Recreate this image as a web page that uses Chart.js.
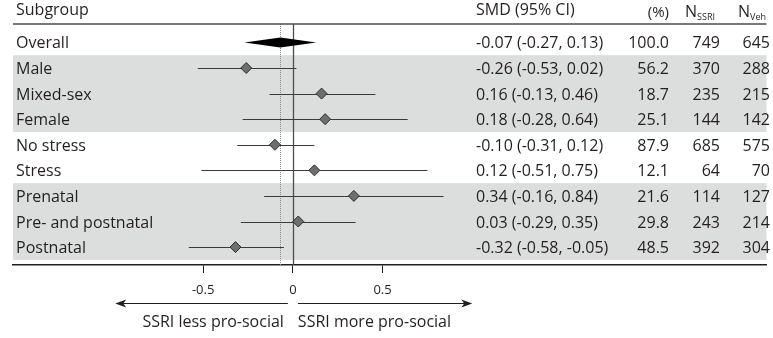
<!DOCTYPE html>
<html>
<head>
<meta charset="utf-8">
<title>SSRI subgroup forest plot</title>
<script src="https://cdn.jsdelivr.net/npm/chart.js@4.4.1/dist/chart.umd.min.js"></script>
<style>
  html, body { margin: 0; padding: 0; background: #fff; }
  canvas { display: block; }
</style>
</head>
<body>
<canvas id="forestChart" width="773" height="338"></canvas>
<script>
// Subgroup estimates (standardised mean difference with 95% CI)
const subgroups = ['Overall', 'Male', 'Mixed-sex', 'Female', 'No stress', 'Stress', 'Prenatal', 'Pre- and postnatal', 'Postnatal'];
const smd = [-0.07, -0.26, 0.16, 0.18, -0.10, 0.12, 0.34, 0.03, -0.32];
const ciLow = [-0.27, -0.53, -0.13, -0.28, -0.31, -0.51, -0.16, -0.29, -0.58];
const ciHigh = [0.13, 0.02, 0.46, 0.64, 0.12, 0.75, 0.84, 0.35, -0.05];
const weight = [100.0, 56.2, 18.7, 25.1, 87.9, 12.1, 21.6, 29.8, 48.5];
const nSSRI = [749, 370, 235, 144, 685, 64, 114, 243, 392];
const nVeh = [645, 288, 215, 142, 575, 70, 127, 214, 304];

// grey bands behind grouped rows (first row, last row)
const bands = [[1, 3], [6, 8]];
const xTicks = [-0.5, 0, 0.5];

const FONT = "'Open Sans', 'Noto Sans', sans-serif";
const TEXT = '#231f20';

function fmt(v) {
    return v.toFixed(2);
}

const forestPlugin = {
    id: 'forest',
    beforeDraw(chart) {
        const { ctx, chartArea, scales: { y } } = chart;
        ctx.save();
        ctx.fillStyle = '#fff';
        ctx.fillRect(0, 0, chart.width, chart.height);
        ctx.fillStyle = '#dcdddd';
        bands.forEach(([a, b]) => {
            const top = y.getPixelForValue(a - 0.5);
            const bottom = y.getPixelForValue(b + 0.5);
            ctx.fillRect(chartArea.left, top, chartArea.right - chartArea.left, bottom - top);
        });
        ctx.restore();
    },
    beforeDatasetsDraw(chart) {
        const { ctx, chartArea, scales: { x, y } } = chart;
        ctx.save();

        // dotted line at the pooled estimate
        const xo = Math.round(x.getPixelForValue(smd[0])) + 0.5;
        ctx.strokeStyle = '#8a8a8a';
        ctx.lineWidth = 1;
        ctx.setLineDash([1, 1]);
        ctx.beginPath();
        ctx.moveTo(xo, chartArea.top);
        ctx.lineTo(xo, chartArea.bottom);
        ctx.stroke();
        ctx.setLineDash([]);

        // line of no effect
        const x0 = Math.round(x.getPixelForValue(0)) + 0.5;
        ctx.strokeStyle = '#4d4d4d';
        ctx.lineWidth = 1.3;
        ctx.beginPath();
        ctx.moveTo(x0, chartArea.top);
        ctx.lineTo(x0, chartArea.bottom);
        ctx.stroke();

        // confidence intervals
        ctx.strokeStyle = '#3a3a3a';
        ctx.lineWidth = 1;
        for (let i = 1; i < subgroups.length; i++) {
            const py = Math.round(y.getPixelForValue(i)) + 0.5;
            ctx.beginPath();
            ctx.moveTo(x.getPixelForValue(ciLow[i]), py);
            ctx.lineTo(x.getPixelForValue(ciHigh[i]), py);
            ctx.stroke();
        }

        // pooled diamond
        const py = y.getPixelForValue(0);
        ctx.fillStyle = '#000';
        ctx.beginPath();
        ctx.moveTo(x.getPixelForValue(ciLow[0]), py);
        ctx.lineTo(x.getPixelForValue(smd[0]), py - 5);
        ctx.lineTo(x.getPixelForValue(ciHigh[0]), py);
        ctx.lineTo(x.getPixelForValue(smd[0]), py + 5);
        ctx.closePath();
        ctx.fill();
        ctx.restore();
    },
    afterDraw(chart) {
        const { ctx, chartArea, scales: { x, y } } = chart;
        ctx.save();

        // header rule
        ctx.strokeStyle = '#4d4d4d';
        ctx.lineWidth = 1.5;
        ctx.beginPath();
        ctx.moveTo(chartArea.left, chartArea.top);
        ctx.lineTo(chartArea.right, chartArea.top);
        ctx.stroke();

        ctx.fillStyle = TEXT;
        ctx.textBaseline = 'alphabetic';
        ctx.font = '16px ' + FONT;

        // column headers
        ctx.textAlign = 'left';
        ctx.fillText('Subgroup', 16, 15);
        ctx.fillText('SMD (95% CI)', 476, 15);
        ctx.textAlign = 'right';
        ctx.font = '15px ' + FONT;
        ctx.fillText('(%)', 669, 17);
        drawSub(ctx, 'N', 'SSRI', 685, 17);
        drawSub(ctx, 'N', 'Veh', 738, 17);

        // table rows
        ctx.font = '16px ' + FONT;
        subgroups.forEach((name, i) => {
            const by = y.getPixelForValue(i) + 6;
            ctx.textAlign = 'left';
            ctx.fillText(name, 16, by);
            ctx.fillText(`${fmt(smd[i])} (${fmt(ciLow[i])}, ${fmt(ciHigh[i])})`, 476, by);
            ctx.textAlign = 'right';
            ctx.fillText(weight[i].toFixed(1), 669, by);
            ctx.fillText(String(nSSRI[i]), 720, by);
            ctx.fillText(String(nVeh[i]), 770, by);
        });

        // direction arrows under the axis
        const ay = 303.5;
        const zero = x.getPixelForValue(0);
        drawArrow(ctx, zero - 5, x.getPixelForValue(-0.99), ay);
        drawArrow(ctx, zero + 5, x.getPixelForValue(1.0), ay);
        ctx.fillStyle = TEXT;
        ctx.font = '16px ' + FONT;
        ctx.textAlign = 'right';
        ctx.fillText('SSRI less pro-social', zero - 9, 327);
        ctx.textAlign = 'left';
        ctx.fillText('SSRI more pro-social', zero + 5, 327);
        ctx.restore();
    }
};

// "N" with a small subscript, left edge at x
function drawSub(ctx, main, sub, x, baseline) {
    ctx.textAlign = 'left';
    ctx.font = '16px ' + FONT;
    ctx.fillText(main, x, baseline);
    const w = ctx.measureText(main).width;
    ctx.font = '9px ' + FONT;
    ctx.fillText(sub, x + w, baseline + 3);
}

function drawArrow(ctx, from, to, yy) {
    const dir = Math.sign(to - from);
    ctx.strokeStyle = '#231f20';
    ctx.fillStyle = '#231f20';
    ctx.lineWidth = 1.2;
    ctx.beginPath();
    ctx.moveTo(from, yy);
    ctx.lineTo(to - dir * 6, yy);
    ctx.stroke();
    ctx.beginPath();
    ctx.moveTo(to, yy);
    ctx.lineTo(to - dir * 11, yy - 4);
    ctx.lineTo(to - dir * 8, yy);
    ctx.lineTo(to - dir * 11, yy + 4);
    ctx.closePath();
    ctx.fill();
}

function createForestChart() {
    const ctx = document.getElementById('forestChart').getContext('2d');
    const points = subgroups.map((name, i) => ({ x: smd[i], y: i })).slice(1);

    new Chart(ctx, {
        type: 'scatter',
        data: {
            datasets: [{
                data: points,
                pointStyle: 'rectRot',
                pointRadius: 5.5,
                backgroundColor: '#6d6e70',
                borderColor: '#2e2e2e',
                borderWidth: 1
            }]
        },
        options: {
            responsive: false,
            animation: false,
            devicePixelRatio: 1,
            layout: { padding: { top: 24, left: 13, right: 0, bottom: 0 } },
            plugins: { legend: { display: false }, tooltip: { enabled: false } },
            scales: {
                x: {
                    type: 'linear',
                    min: -1.56,
                    max: 2.64,
                    afterBuildTicks: scale => { scale.ticks = xTicks.map(v => ({ value: v })); },
                    afterFit: scale => { scale.height = 73; },
                    border: { display: true, color: '#231f20', width: 1.5 },
                    grid: { drawOnChartArea: false, drawTicks: true, tickLength: 8, color: '#231f20' },
                    ticks: {
                        padding: 9,
                        color: TEXT,
                        font: { family: FONT, size: 13 },
                        callback: v => String(v)
                    }
                },
                y: {
                    type: 'linear',
                    display: false,
                    reverse: true,
                    min: -0.72,
                    max: 8.7
                }
            }
        },
        plugins: [forestPlugin]
    });
}

document.addEventListener('DOMContentLoaded', createForestChart);
</script>
</body>
</html>
